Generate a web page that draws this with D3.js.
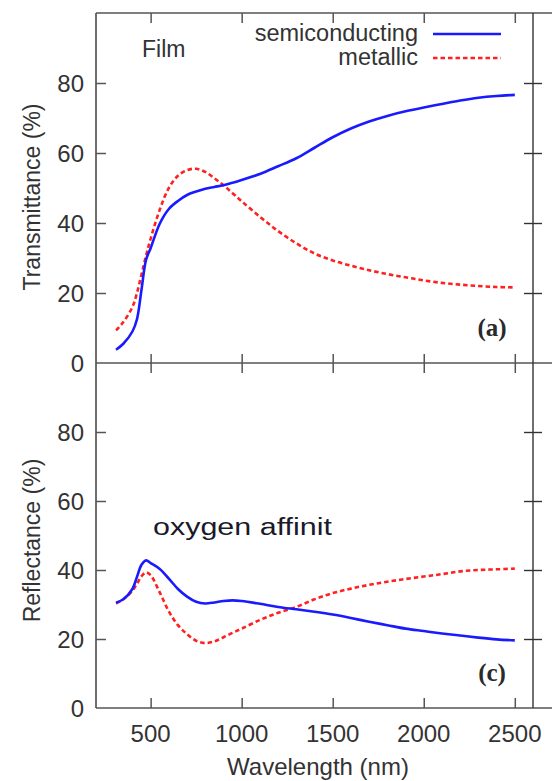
<!DOCTYPE html>
<html><head><meta charset="utf-8">
<script src="https://cdn.jsdelivr.net/npm/d3@7"></script>
<style>
html,body{margin:0;padding:0;background:#fff;}
</style></head>
<body><svg id="c" width="552" height="781" font-family="'Liberation Sans',Arial,sans-serif"></svg>
<script>
const wavelengths = [310,350,400,425,450,475,500,550,600,650,700,750,800,850,900,950,1000,1100,1200,1300,1400,1500,1600,1700,1800,1900,2000,2100,2200,2300,2400,2500];
const transSemi  = [3.8,5.5,9,12.5,21,29.5,32.8,39.8,44,46.3,48,49,49.8,50.3,50.8,51.5,52.3,54,56.2,58.5,61.5,64.5,67,69,70.6,71.9,73,74,75,75.8,76.3,76.6];
const transMetal = [9.3,11.7,16,20,25.3,30.7,35.5,43.8,50,53.5,55.1,55.5,54.6,52.8,50.8,48.5,46.2,41.8,37.7,34.2,31.3,29.3,27.8,26.5,25.4,24.5,23.6,22.9,22.4,22,21.7,21.6];
const reflSemi   = [30.5,31.5,34.5,38,41.5,42.8,42,40.3,37.5,34.5,32.3,30.8,30.3,30.6,31,31.2,31,30.2,29.3,28.6,27.9,27.1,26.1,25,24,23,22.3,21.6,21,20.4,19.9,19.6];
const reflMetal  = [30.3,31.5,34,36,38.2,39.3,38.5,33.5,28,24,21.4,19.5,18.8,19.3,20.5,21.8,23,25.5,27.6,29.3,31.5,33.3,34.6,35.7,36.6,37.4,38.1,38.8,39.6,40,40.2,40.4];
const xTicks = [500,1000,1500,2000,2500];
const yTicks = [0,20,40,60,80];
const seriesNames = ["semiconducting","metallic"];
const panelTitles = ["Transmittance (%)","Reflectance (%)"];
const panelLabels = ["(a)","(c)"];

const svg = d3.select("#c");
svg.append("rect").attr("width",552).attr("height",781).attr("fill","#fff");

const x = d3.scaleLinear().domain([200,2600]).range([96,533]);
const yTop = d3.scaleLinear().domain([0,100]).range([363,13]);
const yBot = d3.scaleLinear().domain([0,100]).range([708,363]);
const frame = "#555";
const txt = "#333";

function drawPanel(y, semi, metal, title, label, isTop){
  const g = svg.append("g");
  const yl = g.append("g").attr("transform",`translate(${x.range()[0]},0)`)
    .call(d3.axisRight(y).tickValues(yTicks.filter(v=>v>0)).tickSize(10).tickFormat(""));
  yl.select(".domain").remove();
  yl.selectAll("line").attr("stroke",frame).attr("stroke-width",1.5);
  g.selectAll("text.yl").data(yTicks).enter().append("text")
    .attr("x",84).attr("y",d=>y(d)).attr("dy","0.36em").attr("text-anchor","end")
    .attr("font-size",24).attr("fill",txt).text(d=>d);
  const yr = g.append("g").attr("transform",`translate(${x.range()[1]-9},0)`)
    .call(d3.axisRight(y).tickValues(yTicks.filter(v=>v>0)).tickSize(18).tickFormat(""));
  yr.select(".domain").remove();
  yr.selectAll("line").attr("stroke","#333").attr("stroke-width",1.4);
  const cy = (y.range()[0]+y.range()[1])/2 + (isTop?9:5);
  g.append("text").attr("transform",`translate(40,${cy}) rotate(-90)`)
    .attr("text-anchor","middle").attr("font-size",23).attr("fill",txt).text(title);
  const line = d3.line().x((d,i)=>x(wavelengths[i])).y(d=>y(d)).curve(d3.curveCatmullRom.alpha(0.5));
  g.append("path").datum(metal).attr("d",line).attr("fill","none")
    .attr("stroke","#ff2020").attr("stroke-width",2.6).attr("stroke-dasharray","4.5,3");
  g.append("path").datum(semi).attr("d",line).attr("fill","none")
    .attr("stroke","#1a1aff").attr("stroke-width",2.6);
  g.append("text").attr("x",492).attr("y",y(0)-27).attr("text-anchor","middle")
    .attr("font-family","'Liberation Serif','Times New Roman',serif").attr("font-weight","bold")
    .attr("font-size",25).attr("fill","#2a2a2a").text(label);
}

drawPanel(yTop, transSemi, transMetal, panelTitles[0], panelLabels[0], true);
drawPanel(yBot, reflSemi, reflMetal, panelTitles[1], panelLabels[1], false);

const xt1 = svg.append("g").attr("transform","translate(0,13)")
  .call(d3.axisBottom(x).tickValues(xTicks).tickSize(10).tickFormat(""));
const xt2 = svg.append("g").attr("transform","translate(0,354)")
  .call(d3.axisBottom(x).tickValues(xTicks).tickSize(19).tickFormat(""));
const xt3 = svg.append("g").attr("transform","translate(0,698)")
  .call(d3.axisBottom(x).tickValues(xTicks).tickSize(10).tickFormat(""));
[xt1,xt2,xt3].forEach(a=>{a.select(".domain").remove();a.selectAll("line").attr("stroke",frame).attr("stroke-width",1.5);});
svg.selectAll("text.xl").data(xTicks).enter().append("text")
  .attr("x",d=>x(d)).attr("y",742).attr("text-anchor","middle")
  .attr("font-size",24).attr("fill",txt).text(d=>d);
svg.append("text").attr("x",318).attr("y",775).attr("text-anchor","middle")
  .attr("font-size",24).attr("fill",txt).text("Wavelength (nm)");

[[96,13,552,13],[96,363,552,363],[96,708,552,708],[96,13,96,708]].forEach(l=>{
  svg.append("line").attr("x1",l[0]).attr("y1",l[1]).attr("x2",l[2]).attr("y2",l[3])
    .attr("stroke",frame).attr("stroke-width",1.7);
});
svg.append("line").attr("x1",533).attr("y1",13).attr("x2",533).attr("y2",708)
  .attr("stroke","#333").attr("stroke-width",1.4);

svg.append("text").attr("x",142).attr("y",57).attr("font-size",23).attr("fill",txt).text("Film");
svg.append("text").attr("x",418).attr("y",41).attr("text-anchor","end").attr("font-size",23.5).attr("fill",txt).text(seriesNames[0]);
svg.append("text").attr("x",418).attr("y",65).attr("text-anchor","end").attr("font-size",23.5).attr("fill",txt).text(seriesNames[1]);
svg.append("line").attr("x1",433).attr("y1",34).attr("x2",501).attr("y2",34).attr("stroke","#1a1aff").attr("stroke-width",2.6);
svg.append("line").attr("x1",433).attr("y1",58).attr("x2",501).attr("y2",58).attr("stroke","#ff2020").attr("stroke-width",2.6).attr("stroke-dasharray","4.5,3");
svg.append("text").attr("x",153).attr("y",535).attr("font-size",23).attr("fill","#1a1a2a")
  .attr("textLength",179).attr("lengthAdjust","spacingAndGlyphs").text("oxygen affinit");
</script></body></html>
